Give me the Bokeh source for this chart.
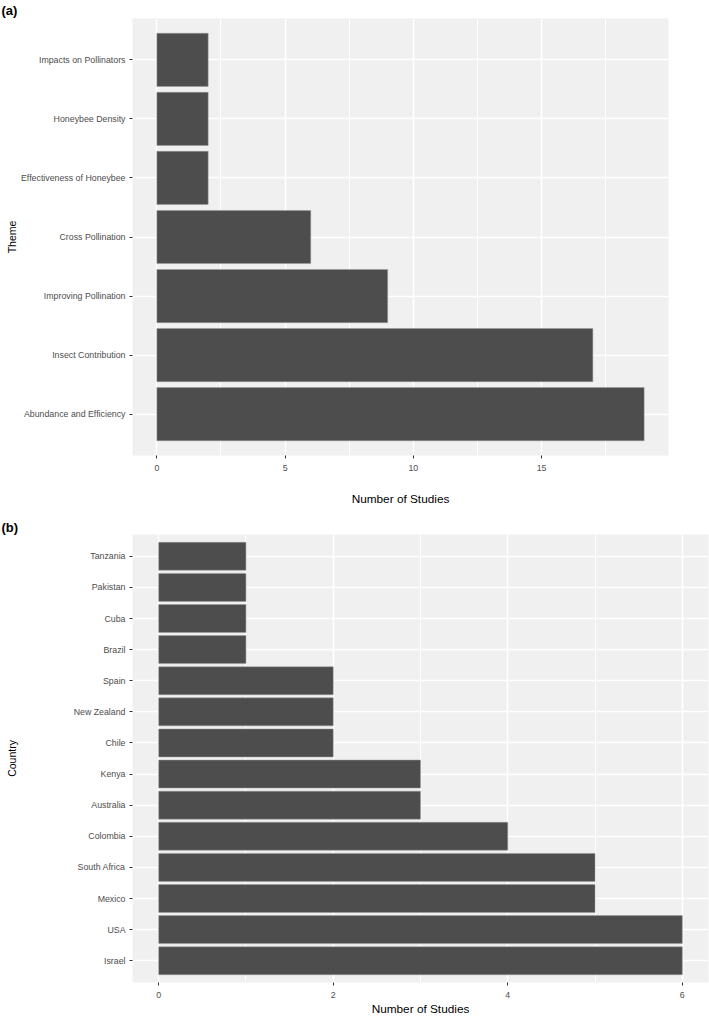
from bokeh.plotting import figure
from bokeh.models import FactorRange, Range1d, FixedTicker
from bokeh.embed import file_html
from bokeh.resources import INLINE

# ---- data (top-to-bottom order as shown) ----
themes = ["Impacts on Pollinators", "Honeybee Density", "Effectiveness of Honeybee",
          "Cross Pollination", "Improving Pollination", "Insect Contribution",
          "Abundance and Efficiency"]
theme_counts = [2, 2, 2, 6, 9, 17, 19]
theme_ticks = [0, 5, 10, 15]
theme_minor = [2.5, 7.5, 12.5, 17.5]

countries = ["Tanzania", "Pakistan", "Cuba", "Brazil", "Spain", "New Zealand", "Chile",
             "Kenya", "Australia", "Colombia", "South Africa", "Mexico", "USA", "Israel"]
country_counts = [1, 1, 1, 1, 2, 2, 2, 3, 3, 4, 5, 5, 6, 6]
country_ticks = [0, 2, 4, 6]
country_minor = [1, 3, 5]

FONT = "Liberation Sans"
BAR = "#4D4D4D"
PANEL = "#F0F0F0"


def make_panel(cats, vals, ticks, minor, ytitle, tag, height, mb_top, mb_bottom,
               mb_right, ylab_standoff, xlab_standoff, tag_standoff):
    factors = list(reversed(cats))
    vmax = max(vals)
    p = figure(width=709, height=height, output_backend="svg", toolbar_location=None,
               y_range=FactorRange(factors=factors, range_padding=0.2,
                                   range_padding_units="absolute"),
               x_range=Range1d(-0.05 * vmax, vmax * 1.05),
               min_border_left=132, min_border_right=mb_right,
               min_border_top=mb_top, min_border_bottom=mb_bottom)
    p.outline_line_color = None
    p.background_fill_color = PANEL
    p.border_fill_color = "white"

    p.title.text = tag
    p.title.align = "left"
    p.title.offset = -131
    p.title.standoff = tag_standoff
    p.title.text_font = FONT
    p.title.text_font_size = "13px"
    p.title.text_font_style = "bold"
    p.title.text_color = "black"

    p.hbar(y=cats, right=vals, left=0, height=0.9, fill_color=BAR,
           line_color="#9a9a9a", line_width=0.5)

    p.xaxis.ticker = FixedTicker(ticks=ticks, minor_ticks=minor)
    for ax in (p.xaxis, p.yaxis):
        ax.axis_line_color = None
        ax.major_tick_line_color = "#333333"
        ax.major_tick_out = 3
        ax.major_tick_in = 0
        ax.minor_tick_line_color = None
        ax.major_label_text_font = FONT
        ax.major_label_text_font_size = "8.8px"
        ax.major_label_text_color = "#4D4D4D"
        ax.axis_label_text_font = FONT
        ax.axis_label_text_font_style = "normal"
        ax.axis_label_text_color = "black"
    p.xaxis.axis_label_text_font_size = "11.8px"
    p.yaxis.axis_label_text_font_size = "10.5px"
    p.xaxis.major_label_standoff = 5
    p.yaxis.major_label_standoff = 4
    p.xaxis.axis_label = "Number of Studies"
    p.yaxis.axis_label = ytitle
    p.yaxis.axis_label_standoff = ylab_standoff
    p.xaxis.axis_label_standoff = xlab_standoff

    p.xgrid.grid_line_color = "white"
    p.xgrid.grid_line_width = 1.6
    p.xgrid.minor_grid_line_color = "white"
    p.xgrid.minor_grid_line_width = 1.0
    p.ygrid.grid_line_color = "white"
    p.ygrid.grid_line_width = 1.5
    return p


pa = make_panel(themes, theme_counts, theme_ticks, theme_minor, "Theme", "(a)",
                height=517, mb_top=17, mb_bottom=62, mb_right=41,
                ylab_standoff=0, xlab_standoff=18, tag_standoff=1)
pb = make_panel(countries, country_counts, country_ticks, country_minor, "Country", "(b)",
                height=501, mb_top=16, mb_bottom=32, mb_right=1,
                ylab_standoff=53, xlab_standoff=1, tag_standoff=0)

# two separate roots so that the frames are not aligned to each other
open("out.html", "w").write(file_html([pa, pb], INLINE))
